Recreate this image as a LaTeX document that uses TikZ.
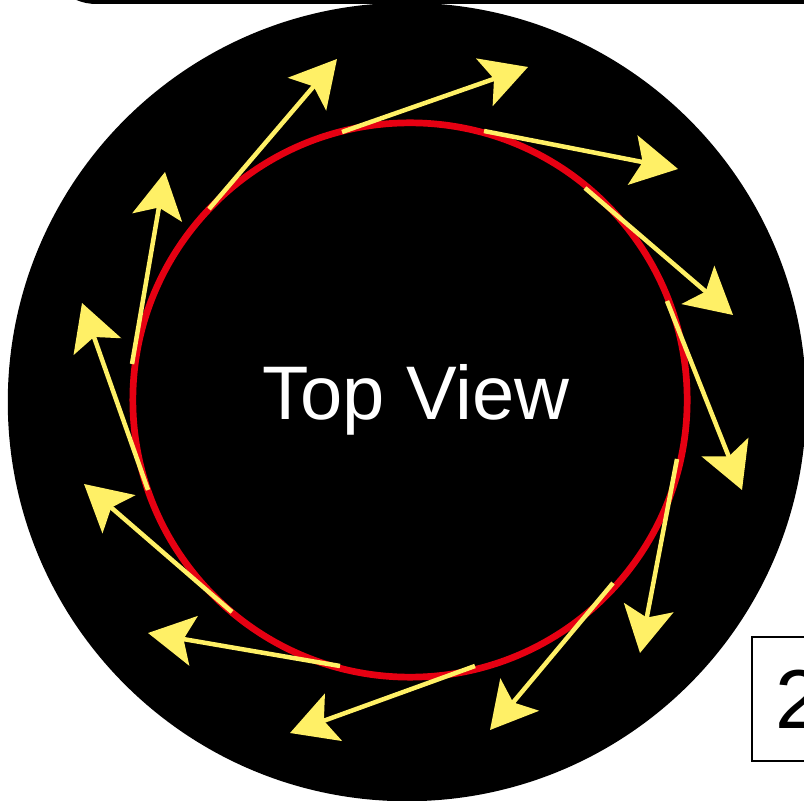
\documentclass[tikz,border=0pt]{standalone}
\usepackage{fontspec}
\setmainfont{Liberation Sans}
\usepackage{tikz}
\usetikzlibrary{arrows.meta}
\definecolor{RingRed}{HTML}{E60012}
\definecolor{FlowYellow}{HTML}{FFF066}

\begin{document}
\begin{tikzpicture}[x=0.01cm, y=-0.01cm,
  flow/.style={FlowYellow, line width=0.045cm, -{Stealth[length=4.6mm, width=5mm, inset=1mm]}},
  every node/.style={align=center}]
  \useasboundingbox (0,0) rectangle (804,801);

  % Frame edge along the top
  \draw[line width=0.04cm, rounded corners=14] (47,-80) rectangle (900,2);

  % Disk and ring
  \node[circle, fill=black, minimum size=7.98cm, inner sep=0pt] (disk) at (407,402) {};
  \node[circle, draw=RingRed, line width=0.067cm, minimum size=5.54cm, inner sep=0pt] (ring) at (410,400) {};

  % Flow arrows round the ring
  \foreach \i/\sx/\sy/\tx/\ty in {1/209/209/337/59, 2/342/132/528/67, 3/484/131/678/169,
      4/585/188/733/315, 5/667/301/742/490, 6/677/459/640/653, 7/613/583/490/730,
      8/475/666/290/733, 9/340/666/148/633, 10/232/612/84/484, 11/148/490/82/303,
      12/132/364/165/172} {
    \coordinate (s\i) at (\sx,\sy);
    \coordinate (t\i) at (\tx,\ty);
    \draw[flow] (s\i) -- (t\i);
  }

  % Label
  \node[text=white, font=\fontsize{21.6pt}{26pt}\selectfont] (title) at (416,400) {Top View};

  % Number box at the bottom right
  \node[draw, line width=0.017cm, minimum width=0.94cm, minimum height=1.24cm,
        font=\fontsize{23.8pt}{28pt}\selectfont] (numbox) at (799,699) {2};
\end{tikzpicture}
\end{document}
